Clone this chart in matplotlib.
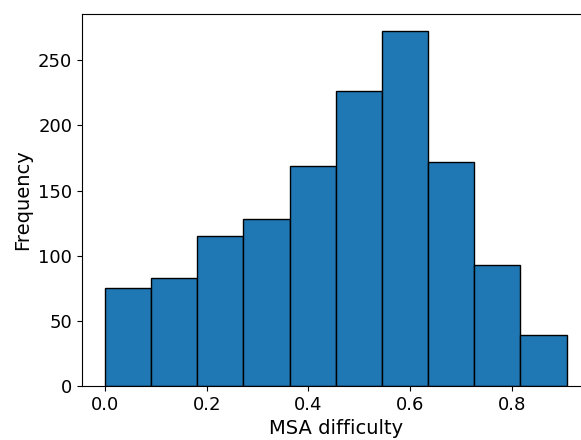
import matplotlib
matplotlib.use("Agg")
import matplotlib.pyplot as plt
import numpy as np

# histogram: 10 bins from 0 to ~0.908
bin_edges = np.linspace(0.0, 0.908, 11)
counts = [75, 83, 115, 128, 169, 226, 272, 172, 93, 39]

centers = (bin_edges[:-1] + bin_edges[1:]) / 2

fig = plt.figure(figsize=(5.81, 4.40), dpi=100)
ax = fig.add_axes([0.141, 0.1227, 0.874, 0.846])

ax.hist(centers, bins=bin_edges, weights=counts, color="#1f77b4", edgecolor="black")

ax.set_xlabel("MSA difficulty", fontsize=14)
ax.set_ylabel("Frequency", fontsize=14)
ax.tick_params(labelsize=13)

fig.savefig("out.png", dpi=100)
